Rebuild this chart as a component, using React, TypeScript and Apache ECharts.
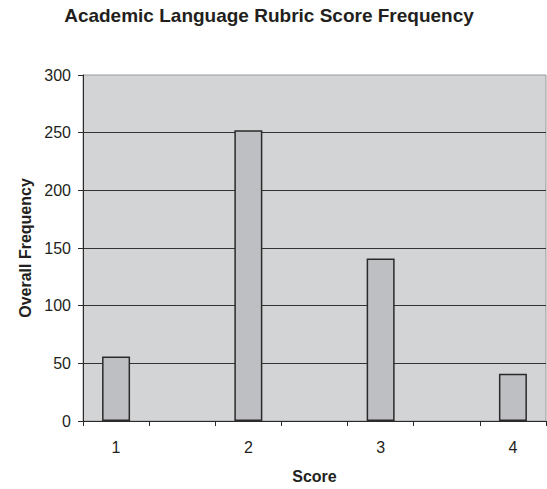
import React, { useEffect, useRef } from "react";
import * as echarts from "echarts";

// Rubric scores and how often each was given
const scores = ["1", "2", "3", "4"];
const frequencies = [56, 252, 141, 41];
const yTicks = { min: 0, max: 300, interval: 50 };

// Each score sits in its own slot with an empty slot between neighbours
const slotLabels: string[] = [];
const slotValues: (number | string)[] = [];
scores.forEach((s, i) => {
  if (i > 0) {
    slotLabels.push("");
    slotValues.push("-");
  }
  slotLabels.push(s);
  slotValues.push(frequencies[i]);
});

const FONT = "'Liberation Sans', Arial, Helvetica, sans-serif";
const INK = "#231f20";

export default function App() {
  const ref = useRef<HTMLDivElement>(null);

  useEffect(() => {
    if (!ref.current) return;
    const chart = echarts.init(ref.current, undefined, { renderer: "svg" });
    chart.setOption({
      animation: false,
      backgroundColor: "#ffffff",
      textStyle: { fontFamily: FONT },
      graphic: [
        {
          type: "text",
          x: 269,
          y: 25,
          style: {
            text: "Academic Language Rubric Score Frequency",
            font: `bold 19px ${FONT}`,
            fill: INK,
            textAlign: "center",
            textVerticalAlign: "bottom",
          },
        },
      ],
      grid: {
        left: 83,
        right: 1,
        top: 75,
        bottom: 67,
        show: true,
        backgroundColor: "#d3d4d6",
        borderColor: "#9a9a9a",
        borderWidth: 1,
        containLabel: false,
      },
      xAxis: {
        type: "category",
        data: slotLabels,
        boundaryGap: true,
        name: "Score",
        nameLocation: "middle",
        nameGap: 47,
        nameTextStyle: { fontFamily: FONT, fontWeight: "bold", fontSize: 16, color: INK },
        axisLine: { show: true, lineStyle: { color: "#2a2a2a", width: 1 } },
        axisTick: {
          show: true,
          interval: 0,
          alignWithLabel: false,
          length: 5,
          lineStyle: { color: "#2a2a2a" },
        },
        axisLabel: {
          interval: 0,
          margin: 18,
          fontFamily: FONT,
          fontSize: 16,
          color: INK,
        },
        splitLine: { show: false },
      },
      yAxis: {
        type: "value",
        min: yTicks.min,
        max: yTicks.max,
        interval: yTicks.interval,
        name: "Overall Frequency",
        nameLocation: "middle",
        nameRotate: 90,
        nameGap: 49,
        nameTextStyle: { fontFamily: FONT, fontWeight: "bold", fontSize: 16, color: INK },
        axisLine: { show: true, lineStyle: { color: "#2a2a2a", width: 1 } },
        axisTick: { show: true, length: 5, lineStyle: { color: "#2a2a2a" } },
        axisLabel: { margin: 12, fontFamily: FONT, fontSize: 16, color: INK },
        splitLine: {
          show: true,
          showMaxLine: false,
          lineStyle: { color: "#333333", width: 1 },
        },
      },
      series: [
        {
          type: "bar",
          data: slotValues,
          barWidth: 28,
          itemStyle: {
            color: "#bebfc3",
            borderColor: "#2a2a2a",
            borderWidth: 1.5,
          },
        },
      ],
    });
    return () => chart.dispose();
  }, []);

  return (
    <div
      ref={ref}
      style={{ position: "absolute", left: 0, top: 0, width: 547, height: 489 }}
    />
  );
}
